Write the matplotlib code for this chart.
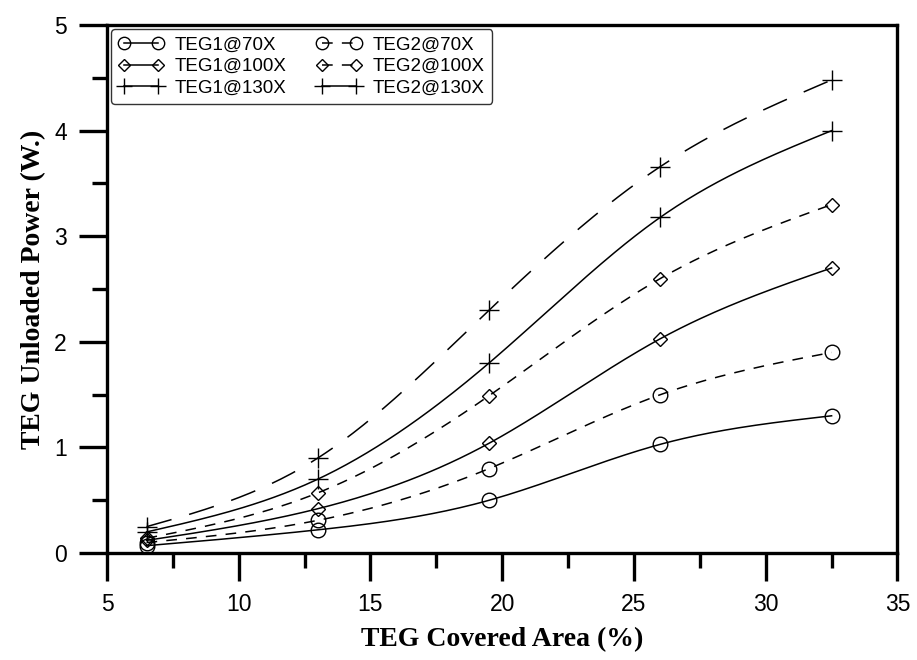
import numpy as np
import matplotlib
matplotlib.use("Agg")
import matplotlib.pyplot as plt
from matplotlib.lines import Line2D
from matplotlib.ticker import MultipleLocator

# covered area (%) and unloaded power (W)
area = [6.5, 13, 19.5, 26, 32.5]
teg1_70 = [0.07, 0.22, 0.50, 1.03, 1.30]
teg2_70 = [0.10, 0.31, 0.80, 1.50, 1.90]
teg1_100 = [0.12, 0.42, 1.04, 2.03, 2.70]
teg2_100 = [0.14, 0.57, 1.49, 2.60, 3.30]
teg1_130 = [0.20, 0.70, 1.80, 3.18, 4.00]
teg2_130 = [0.25, 0.90, 2.30, 3.66, 4.48]


def spline(x, y, n=200):
    # natural cubic spline through the points, just for drawing the smooth line
    x = np.asarray(x, float)
    y = np.asarray(y, float)
    k = len(x)
    h = np.diff(x)
    A = np.zeros((k, k))
    b = np.zeros(k)
    A[0, 0] = A[-1, -1] = 1
    for i in range(1, k - 1):
        A[i, i - 1] = h[i - 1]
        A[i, i] = 2 * (h[i - 1] + h[i])
        A[i, i + 1] = h[i]
        b[i] = 6 * ((y[i + 1] - y[i]) / h[i] - (y[i] - y[i - 1]) / h[i - 1])
    m = np.linalg.solve(A, b)
    xs = np.linspace(x[0], x[-1], n)
    idx = np.clip(np.searchsorted(x, xs) - 1, 0, k - 2)
    t0 = xs - x[idx]
    t1 = x[idx + 1] - xs
    hi = h[idx]
    ys = (m[idx] * t1**3 + m[idx + 1] * t0**3) / (6 * hi) \
        + (y[idx] / hi - m[idx] * hi / 6) * t1 \
        + (y[idx + 1] / hi - m[idx + 1] * hi / 6) * t0
    return xs, ys


fig = plt.figure(figsize=(9.17, 6.6), dpi=100)
ax = fig.add_axes([0.1167, 0.162, 0.862, 0.800])

short = (0, (7, 6))
long_ = (0, (17, 12))
series = [
    (teg1_70, "o", "-", "TEG1@70X"),
    (teg2_70, "o", short, "TEG2@70X"),
    (teg1_100, "D", "-", "TEG1@100X"),
    (teg2_100, "D", short, "TEG2@100X"),
    (teg1_130, "+", "-", "TEG1@130X"),
    (teg2_130, "+", long_, "TEG2@130X"),
]
msize = {"o": 10.5, "D": 7.5, "+": 14}

for y, m, ls, lab in series:
    xs, ys = spline(area, y)
    ax.plot(xs, ys, color="black", lw=1.1, ls=ls)
    ax.plot(area, y, ls="none", marker=m, ms=msize[m], mfc="none",
            mec="black", mew=1.0)

handles = []
for y, m, ls, lab in series:
    hls = "-" if lab == "TEG2@130X" else ls
    handles.append(Line2D([], [], color="black", lw=1.1, ls=hls, marker=m,
                          ms=msize[m] * 0.85, mfc="none", mec="black",
                          mew=1.0, label=lab))
order = [0, 2, 4, 1, 3, 5]
leg = ax.legend([handles[i] for i in order], [series[i][3] for i in order],
                ncol=2, loc="upper left", bbox_to_anchor=(0.005, 0.992),
                borderaxespad=0, frameon=True, fancybox=True,
                edgecolor="black",
                prop={"family": "Liberation Sans", "size": 13.5},
                handlelength=2.4, handletextpad=0.6, columnspacing=1.6,
                labelspacing=0.22, borderpad=0.4, numpoints=2)
leg.get_frame().set_linewidth(1.0)

ax.set_xlim(5, 35)
ax.set_ylim(0, 5)
ax.xaxis.set_major_locator(MultipleLocator(5))
ax.xaxis.set_minor_locator(MultipleLocator(2.5))
ax.yaxis.set_major_locator(MultipleLocator(1))
ax.yaxis.set_minor_locator(MultipleLocator(0.5))
ax.tick_params(which="major", direction="out", length=20, width=2.4,
               labelsize=16.5, pad=9, top=False, right=False)
ax.tick_params(which="minor", direction="out", length=11, width=2.4,
               top=False, right=False)
for lab in ax.get_xticklabels() + ax.get_yticklabels():
    lab.set_family("Liberation Sans")
for s in ax.spines.values():
    s.set_linewidth(2.4)

ax.set_xlabel("TEG Covered Area (%)", family="Liberation Serif",
              fontweight="bold", fontsize=20, labelpad=8)
ax.set_ylabel("TEG Unloaded Power (W.)", family="Liberation Serif",
              fontweight="bold", fontsize=20, labelpad=6)

fig.savefig("out.png", dpi=100)
